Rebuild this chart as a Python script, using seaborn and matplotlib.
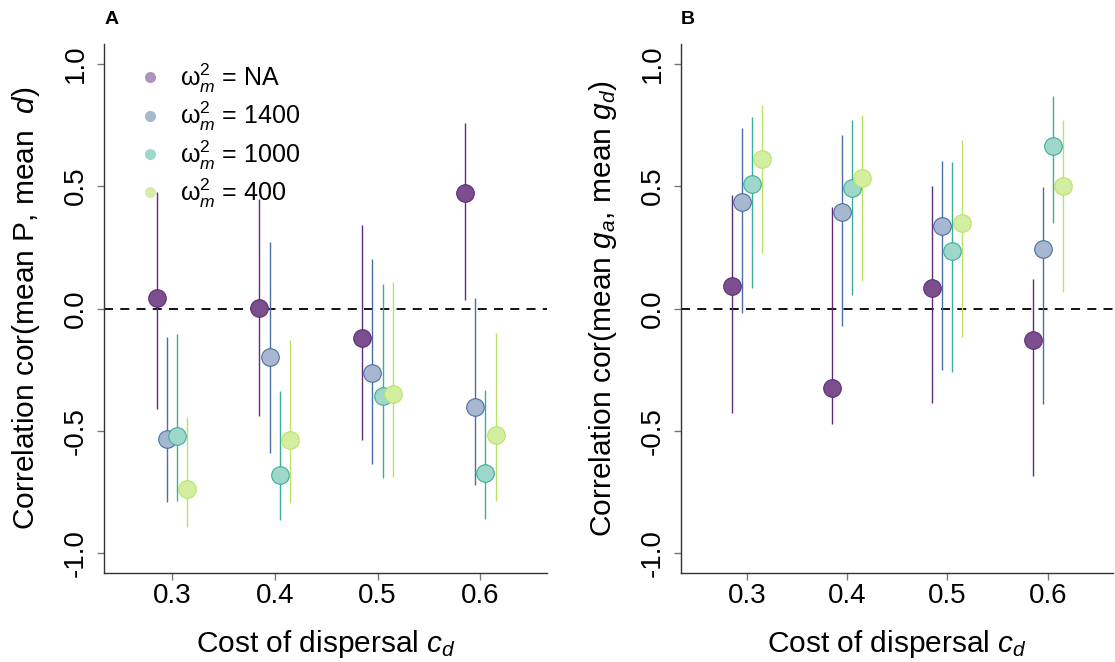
import numpy as np
import pandas as pd
import matplotlib
matplotlib.use("Agg")
import matplotlib.pyplot as plt
import seaborn as sns
from matplotlib.lines import Line2D

# =========================
# Data
# =========================
costs = [0.3, 0.4, 0.5, 0.6]
groups = ["NA", "1400", "1000", "400"]

# panel A: cor(mean P, mean d)
a_mean = {
    "NA":   [0.041, 0.004, -0.120, 0.473],
    "1400": [-0.531, -0.199, -0.264, -0.401],
    "1000": [-0.521, -0.680, -0.357, -0.671],
    "400":  [-0.737, -0.537, -0.348, -0.517],
}
a_low = {
    "NA":   [-0.412, -0.440, -0.537, 0.034],
    "1400": [-0.789, -0.590, -0.635, -0.720],
    "1000": [-0.785, -0.864, -0.694, -0.859],
    "400":  [-0.892, -0.795, -0.687, -0.784],
}
a_high = {
    "NA":   [0.475, 0.448, 0.341, 0.758],
    "1400": [-0.116, 0.271, 0.204, 0.045],
    "1000": [-0.106, -0.337, 0.099, -0.331],
    "400":  [-0.444, -0.128, 0.110, -0.101],
}

# panel B: cor(mean g_a, mean g_d)
b_mean = {
    "NA":   [0.094, -0.324, 0.084, -0.127],
    "1400": [0.433, 0.395, 0.339, 0.242],
    "1000": [0.510, 0.493, 0.235, 0.664],
    "400":  [0.611, 0.533, 0.348, 0.499],
}
b_low = {
    "NA":   [-0.427, -0.472, -0.386, -0.683],
    "1400": [-0.018, -0.072, -0.249, -0.391],
    "1000": [0.084, 0.054, -0.261, 0.351],
    "400":  [0.226, 0.111, -0.117, 0.067],
}
b_high = {
    "NA":   [0.462, 0.416, 0.499, 0.122],
    "1400": [0.736, 0.708, 0.604, 0.495],
    "1000": [0.780, 0.769, 0.599, 0.868],
    "400":  [0.830, 0.789, 0.687, 0.771],
}

# =========================
# Styling
# =========================
dodge = {"NA": -0.015, "1400": -0.005, "1000": 0.005, "400": 0.015}
fill = {"NA": "#7c4e8e", "1400": "#a8b7d0", "1000": "#9fd8cb", "400": "#d4eea1"}
edge = {"NA": "#5f2c78", "1400": "#4a6fa2", "1000": "#3aae98", "400": "#b9e462"}
legend_fill = {"NA": "#b093bd", "1400": "#a9b7cd", "1000": "#9fd7c8", "400": "#d6eea6"}
labels = {g: r"$\mathrm{\omega}_m^2$ = " + g for g in groups}

sns.set_theme(style="ticks")
plt.rcParams["font.family"] = ["Liberation Sans", "DejaVu Sans"]
plt.rcParams["mathtext.fontset"] = "custom"
plt.rcParams["mathtext.rm"] = "Liberation Sans"
plt.rcParams["mathtext.it"] = "Liberation Sans:italic"
plt.rcParams["mathtext.cal"] = "Liberation Sans"
plt.rcParams["text.color"] = "black"
plt.rcParams["axes.labelcolor"] = "black"
plt.rcParams["xtick.labelcolor"] = "black"
plt.rcParams["ytick.labelcolor"] = "black"


def make_frame(mean, low, high):
    rows = []
    for g in groups:
        for i, c in enumerate(costs):
            rows.append({"group": g, "cost": c, "x": c + dodge[g],
                         "r": mean[g][i], "lo": low[g][i], "hi": high[g][i]})
    return pd.DataFrame(rows)


def draw_panel(ax, df, ylabel, letter, legend=False):
    ax.axhline(0, color="black", lw=1.3, ls=(0, (5, 4)), zorder=1)
    for g in groups:
        sub = df[df["group"] == g]
        ax.vlines(sub["x"], sub["lo"], sub["hi"], color=edge[g], lw=1.0, zorder=2)
        sns.scatterplot(data=sub, x="x", y="r", ax=ax, s=160, color=fill[g],
                        edgecolor=edge[g], linewidth=0.8, zorder=3, legend=False)
    ax.set_xlim(0.2338, 0.665)
    ax.set_ylim(-1.08, 1.08)
    ax.set_xticks(costs)
    ax.set_xticklabels([f"{c:.1f}" for c in costs])
    ax.set_yticks([-1.0, -0.5, 0.0, 0.5, 1.0])
    ax.set_yticklabels(["-1.0", "-0.5", "0.0", "0.5", "1.0"], rotation=90, va="center")
    ax.tick_params(axis="both", labelsize=20, length=5, width=1, color="#777777")
    ax.tick_params(axis="y", pad=6)
    ax.tick_params(axis="x", pad=2)
    sns.despine(ax=ax)
    for s in ["left", "bottom"]:
        ax.spines[s].set_color("#333333")
        ax.spines[s].set_linewidth(1.0)
    ax.set_xlabel(r"Cost of dispersal $c_d$", fontsize=21.5, labelpad=14)
    ax.set_ylabel(ylabel, fontsize=21.5, labelpad=15)
    ax.text(0.0, 1.03, letter, transform=ax.transAxes, fontsize=14,
            fontweight="bold", ha="left", va="bottom")
    if legend:
        handles = [Line2D([0], [0], marker="o", ls="", markersize=8,
                          markerfacecolor=legend_fill[g], markeredgecolor="none")
                   for g in groups]
        ax.legend(handles, [labels[g] for g in groups], loc="upper left",
                  bbox_to_anchor=(0.03, 1.0), frameon=False, fontsize=18,
                  handlelength=1.2, handletextpad=0.6, labelspacing=0.2,
                  borderaxespad=0.3)


df_a = make_frame(a_mean, a_low, a_high)
df_b = make_frame(b_mean, b_low, b_high)

fig = plt.figure(figsize=(11.15, 6.62), dpi=100)
ax_a = fig.add_axes([0.0933, 0.1344, 0.3973, 0.7991])
ax_b = fig.add_axes([0.6105, 0.1344, 0.3875, 0.7991])

draw_panel(ax_a, df_a, r"Correlation cor(mean P, mean  $d$)", "A", legend=True)
draw_panel(ax_b, df_b, r"Correlation cor(mean $g_a$, mean $g_d$)", "B")

fig.savefig("out.png", dpi=100, facecolor="white")
